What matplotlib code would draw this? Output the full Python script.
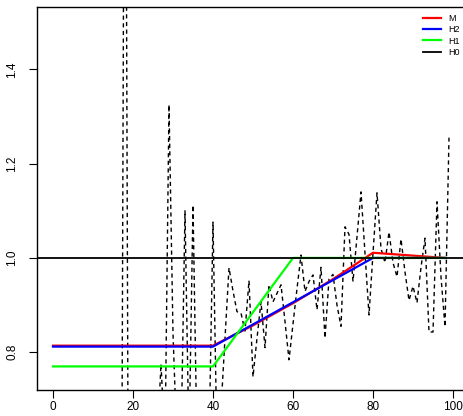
import matplotlib
matplotlib.use("Agg")
import matplotlib.pyplot as plt

plt.rcParams['font.family'] = ['Liberation Sans', 'DejaVu Sans']

obs_x = list(range(17, 100))
obs_y = [0.0, 2.5, 0.0, 0.5, 0.5, 0.5, 0.5, 0.5, 0.5,          # 17-25
         0.6, 0.775, 0.6,                                       # 26-28
         1.325, 0.84, 0.6, 0.6, 1.10, 0.6, 1.112, 0.6, 0.5,     # 29-37
         0.5, 0.6, 1.076, 0.6, 0.68, 0.83,                      # 38-43
         0.979, 0.93, 0.886, 0.883, 0.845, 0.952, 0.748, 0.83,  # 44-51
         0.907, 0.81, 0.943, 0.907, 0.925, 0.943, 0.865, 0.784, # 52-59
         0.86, 0.935, 1.006,                                    # 60-62
         0.929, 0.95, 0.964, 0.89, 0.98, 0.83, 0.955, 0.965,    # 63-70
         0.90, 0.855,                                           # 71-72
         1.066, 1.05, 0.95, 1.045, 1.14, 1.01, 0.879, 1.01,     # 73-80
         1.138, 1.02, 0.99,                                     # 81-83
         1.055, 0.99, 0.96, 1.04, 0.97, 0.91, 0.94, 0.905,      # 84-91
         0.98, 1.042, 0.843, 0.843, 1.119, 0.96, 0.854, 1.255]  # 92-99

# fitted models
m_x = [0, 40, 50, 60, 70, 80, 98]
m_y = [0.814, 0.814, 0.857, 0.904, 0.955, 1.011, 1.0]
h2_x = [0, 40, 80, 98]
h2_y = [0.812, 0.812, 1.0, 1.0]
h1_x = [0, 40, 60, 98]
h1_y = [0.77, 0.77, 1.0, 1.0]
h0_y = 1.0

fig = plt.figure(figsize=(4.63, 4.16), dpi=100)
ax = fig.add_axes([37 / 463, 26 / 416, (469 - 37) / 463, (390 - 7) / 416])

ax.plot(obs_x, obs_y, color='black', lw=1.0, linestyle=(0, (3, 2.5)))
ax.plot(m_x, m_y, color='#ff0000', lw=1.6, label='M')
ax.plot(h2_x, h2_y, color='#0000ff', lw=1.6, label='H2')
ax.plot(h1_x, h1_y, color='#00ff00', lw=1.6, label='H1')
ax.axhline(h0_y, color='black', lw=1.3, label='H0')

ax.set_xlim(-4, 104)
ax.set_ylim(0.72, 1.532)
ax.set_xticks([0, 20, 40, 60, 80, 100])
ax.set_yticks([0.8, 1.0, 1.2, 1.4])
ax.set_yticklabels(['0.8', '1.0', '1.2', '1.4'], rotation=90, va='center')
ax.tick_params(axis='both', labelsize=8.5, length=5.5, width=0.8)
ax.tick_params(axis='x', pad=2.5)
ax.tick_params(axis='y', pad=8)
for s in ax.spines.values():
    s.set_linewidth(1.0)

ax.legend(loc='upper right', bbox_to_anchor=(1.0, 0.975), bbox_transform=fig.transFigure,
          frameon=False, fontsize=6.5, handlelength=2, handletextpad=0.8,
          labelspacing=0.25, borderaxespad=0, borderpad=0.4)

fig.savefig('out.png', dpi=100)
